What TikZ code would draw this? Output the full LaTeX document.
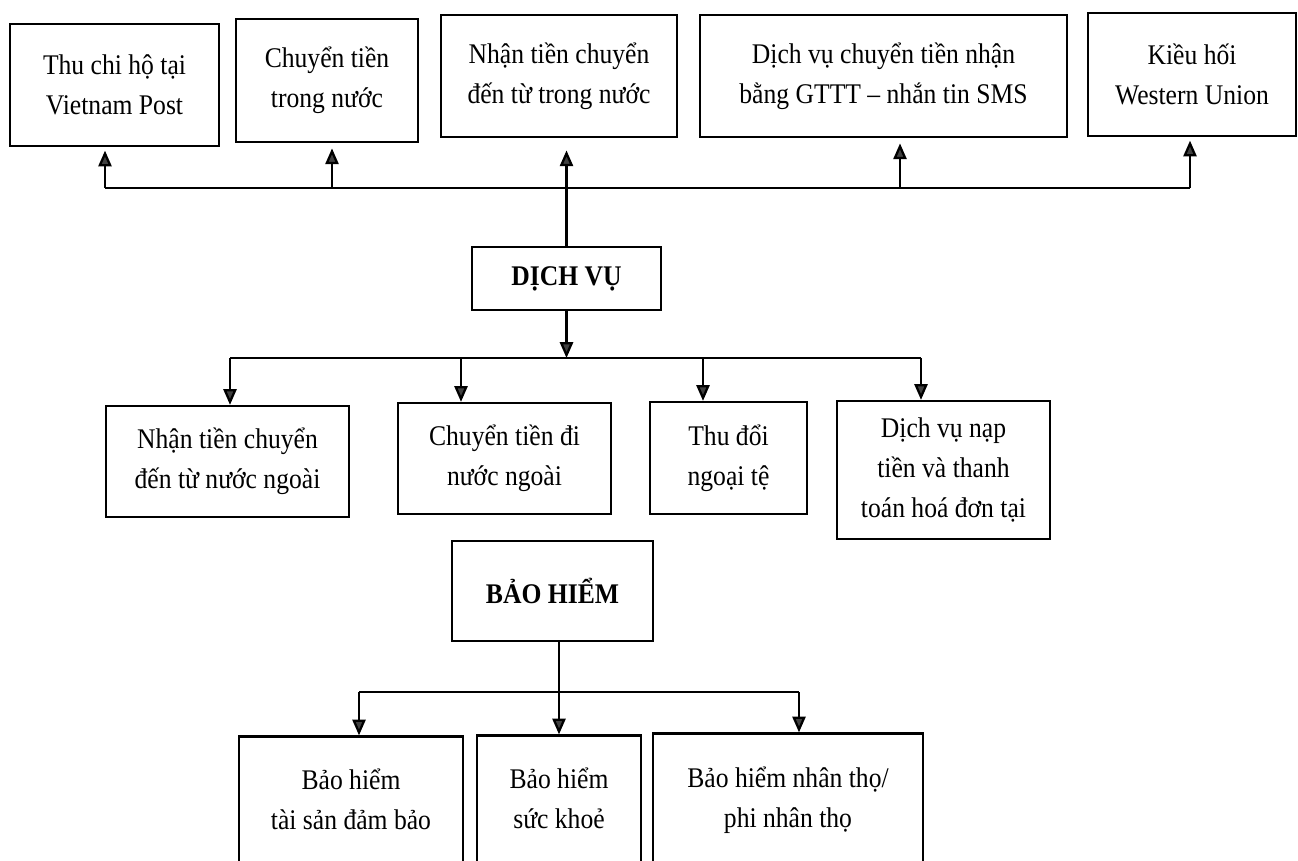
\documentclass[tikz,border=0pt]{standalone}
\usepackage{fontspec}
\setmainfont{Liberation Serif}[FakeStretch=0.9]
\usetikzlibrary{arrows.meta}

\begin{document}
\begin{tikzpicture}[
    x=0.02cm, y=-0.02cm,
    box/.style={rectangle, draw, line width=1.3pt, align=center, inner sep=2pt,
                font=\fontsize{16.2}{22.5}\selectfont},
    headbox/.style={box, font=\fontsize{16.2}{22.5}\selectfont\bfseries},
    link/.style={line width=1.3pt},
    arrow/.style={link, -{Triangle[length=9pt, width=7.5pt, fill=black!75]}, draw=black}
]
\useasboundingbox (0,0) rectangle (1298,861);

% Top row
\node[box, minimum width=4.18cm, minimum height=2.44cm] (thuchi) at (114.5,85) {Thu chi hộ tại\\Vietnam Post};
\node[box, minimum width=3.64cm, minimum height=2.46cm] (trongnuoc) at (327,80.5) {Chuyển tiền\\trong nước};
\node[box, minimum width=4.72cm, minimum height=2.44cm] (nhantrong) at (559,76) {Nhận tiền chuyển\\đến từ trong nước};
\node[box, minimum width=7.34cm, minimum height=2.44cm] (gttt) at (883.5,76) {Dịch vụ chuyển tiền nhận\\bằng GTTT – nhắn tin SMS};
\node[box, minimum width=4.16cm, minimum height=2.46cm] (kieuhoi) at (1192,74.5) {Kiều hối\\Western Union};

% Services
\node[headbox, minimum width=3.78cm, minimum height=1.26cm] (dichvu) at (566.5,278.5) {DỊCH VỤ};

\node[box, minimum width=4.86cm, minimum height=2.22cm] (nhanngoai) at (227.5,461.5) {Nhận tiền chuyển\\đến từ nước ngoài};
\node[box, minimum width=4.26cm, minimum height=2.22cm] (chuyenngoai) at (504.5,458.5) {Chuyển tiền đi\\nước ngoài};
\node[box, minimum width=3.14cm, minimum height=2.24cm] (thudoi) at (728.5,458) {Thu đổi\\ngoại tệ};
\node[box, minimum width=4.26cm, minimum height=2.76cm] (naptien) at (943.5,470) {Dịch vụ nạp\\tiền và thanh\\toán hoá đơn tại};

% Insurance
\node[headbox, minimum width=4.02cm, minimum height=2.0cm] (baohiem) at (552.5,591) {BẢO HIỂM};

\node[box, minimum width=4.48cm, minimum height=3.3cm] (taisan) at (351,819) {Bảo hiểm\\tài sản đảm bảo\\~};
\node[box, minimum width=3.28cm, minimum height=3.3cm] (suckhoe) at (559,818) {Bảo hiểm\\sức khoẻ\\~};
\node[box, minimum width=5.4cm, minimum height=3.34cm] (nhantho) at (788,817) {Bảo hiểm nhân thọ/\\phi nhân thọ\\~};

% Upper branch
\coordinate (t1) at (105,188);
\coordinate (t2) at (332,188);
\coordinate (t4) at (900,188);
\coordinate (t5) at (1190,188);
\draw[link] (t1) -- (t5);
\draw[arrow, shorten >=2pt] (t1) -- (t1 |- thuchi.south);
\draw[arrow, shorten >=3pt] (t2) -- (t2 |- trongnuoc.south);
\draw[arrow, shorten >=3pt] (t4) -- (t4 |- gttt.south);
\draw[arrow, shorten >=2pt] (t5) -- (t5 |- kieuhoi.south);
\draw[arrow, shorten >=7pt] (dichvu.north) -- (dichvu.north |- nhantrong.south);

% Middle branch
\coordinate (m1) at (230,358);
\coordinate (m2) at (461,358);
\coordinate (m3) at (703,358);
\coordinate (m4) at (921,358);
\draw[arrow] (dichvu.south) -- (dichvu.south |- m1);
\draw[link] (m1) -- (m4);
\draw[arrow] (m1) -- (m1 |- nhanngoai.north);
\draw[arrow] (m2) -- (m2 |- chuyenngoai.north);
\draw[arrow] (m3) -- (m3 |- thudoi.north);
\draw[arrow] (m4) -- (m4 |- naptien.north);

% Lower branch
\coordinate (b1) at (359,692);
\coordinate (b3) at (799,692);
\draw[link] (b1) -- (b3);
\draw[arrow] (b1) -- (b1 |- taisan.north);
\draw[arrow] (suckhoe.north |- baohiem.south) -- (suckhoe.north);
\draw[arrow] (b3) -- (b3 |- nhantho.north);

\end{tikzpicture}
\end{document}
